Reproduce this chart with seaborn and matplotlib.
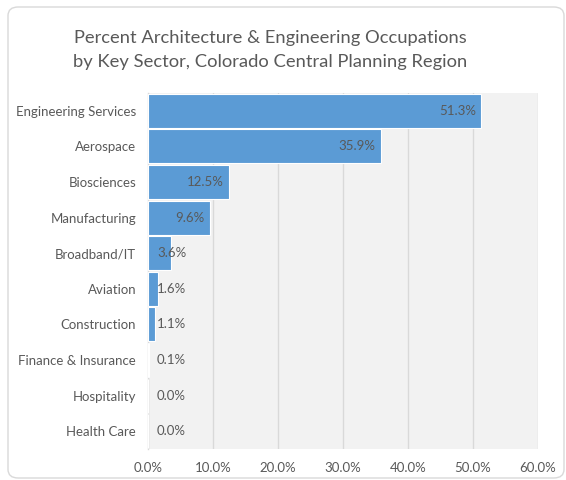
import matplotlib
matplotlib.use("Agg")
import matplotlib.pyplot as plt
from matplotlib.patches import FancyBboxPatch
from matplotlib.ticker import FuncFormatter, MultipleLocator
import seaborn as sns
import pandas as pd

sectors = ["Engineering Services", "Aerospace", "Biosciences", "Manufacturing",
           "Broadband/IT", "Aviation", "Construction", "Finance & Insurance",
           "Hospitality", "Health Care"]
percents = [51.3, 35.9, 12.5, 9.6, 3.6, 1.6, 1.1, 0.1, 0.0, 0.0]
title = "Percent Architecture & Engineering Occupations\nby Key Sector, Colorado Central Planning Region"

sns.set_theme(style="white")
plt.rcParams['font.family'] = ['Lato', 'DejaVu Sans']
TXT = "#595959"
BAR = "#5B9BD5"

df = pd.DataFrame({"sector": sectors, "pct": percents})

fig = plt.figure(figsize=(5.66, 4.80), dpi=100)
fig.patch.set_facecolor("white")

ax = fig.add_axes([148/566, 1 - 449/480, (538-148)/566, (449-93)/480])
ax.set_facecolor("#F2F2F2")
sns.barplot(data=df, y="sector", x="pct", orient="h", color=BAR, saturation=1,
            width=0.95, edgecolor="white", linewidth=0.8, ax=ax, zorder=3)

ax.set_xlim(0, 60)
ax.xaxis.set_major_locator(MultipleLocator(10))
ax.xaxis.set_major_formatter(FuncFormatter(lambda v, p: f"{v:.1f}%"))
ax.grid(axis="x", color="#D9D9D9", linewidth=1.0, zorder=0)
ax.set_axisbelow(True)
for s in ["top", "right", "bottom"]:
    ax.spines[s].set_visible(False)
ax.spines["left"].set_color("#D9D9D9")
ax.spines["left"].set_linewidth(1.0)
ax.set_xlabel("")
ax.set_ylabel("")
ax.tick_params(axis="both", length=0, colors=TXT, labelsize=9.5)
ax.tick_params(axis="y", pad=8.5)
ax.tick_params(axis="x", pad=9)

for i, v in enumerate(percents):
    lab = f"{v:.1f}%"
    if v >= 5:
        ax.annotate(lab, (v, i), xytext=(-4, 0), textcoords="offset points",
                    ha="right", va="center", fontsize=9.5, color=TXT, zorder=5)
    else:
        ax.annotate(lab, (0, i), xytext=(6.5, 0), textcoords="offset points",
                    ha="left", va="center", fontsize=9.5, color=TXT, zorder=5)

fig.text(270/566, 1 - 50/480, title, ha="center", va="center", fontsize=13.2,
         color=TXT, linespacing=1.65)

border = FancyBboxPatch((8/566, 2/480), 556/566, 471/480,
                        boxstyle="round,pad=0,rounding_size=0.018",
                        transform=fig.transFigure, facecolor="none",
                        edgecolor="#D9D9D9", linewidth=1.0, zorder=10)
fig.patches.append(border)

fig.savefig("out.png", dpi=100)
